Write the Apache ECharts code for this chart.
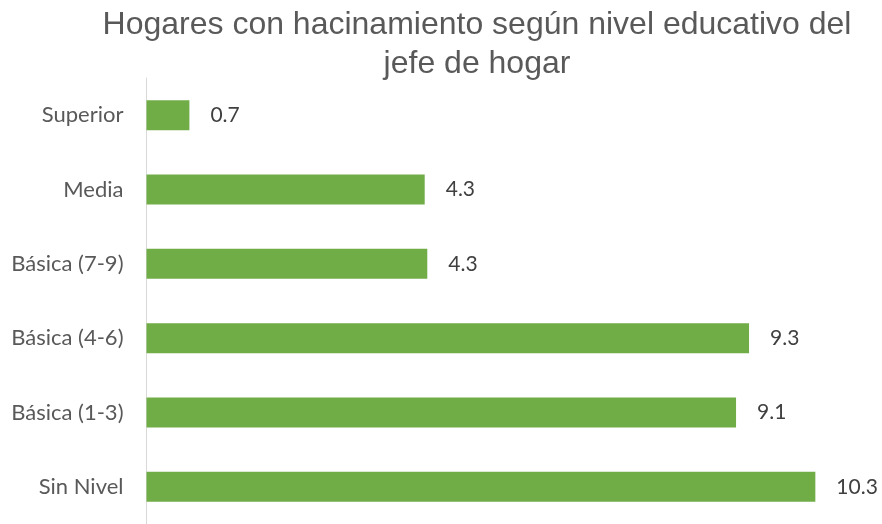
<!DOCTYPE html>
<html><head><meta charset="utf-8">
<script src="https://cdn.jsdelivr.net/npm/echarts@6/dist/echarts.min.js"></script>
<style>html,body{margin:0;padding:0;background:#fff}#c{width:882px;height:524px}</style>
</head><body><div id="c"></div>
<script>
const categories = ['Sin Nivel', 'Básica (1-3)', 'Básica (4-6)', 'Básica (7-9)', 'Media', 'Superior'];
const values = [10.29, 9.07, 9.27, 4.32, 4.28, 0.66];
const titleText = 'Hogares con hacinamiento según nivel educativo del\njefe de hogar';

const chart = echarts.init(document.getElementById('c'), null, {renderer: 'canvas'});
chart.setOption({
  animation: false,
  backgroundColor: '#ffffff',
  title: {
    text: titleText,
    left: 472, top: 1, textAlign: 'center',
    textStyle: {fontFamily: 'Liberation Sans', fontSize: 32, fontWeight: 'normal', color: '#595959', lineHeight: 39}
  },
  grid: {left: 146.5, top: 78, height: 452, right: 20.5, containLabel: false},
  xAxis: {type: 'value', min: 0, max: 11, show: false},
  yAxis: {
    type: 'category', data: categories,
    axisLine: {show: true, lineStyle: {color: '#d9d9d9', width: 1}},
    axisTick: {show: false},
    axisLabel: {fontFamily: 'Lato', fontSize: 22, color: '#595959', margin: 23},
    splitLine: {show: false}
  },
  series: [{
    type: 'bar', data: values, barWidth: 30,
    itemStyle: {color: '#70ad47'},
    label: {show: true, position: 'right', distance: 21, fontFamily: 'Lato', fontSize: 21, color: '#404040',
      formatter: p => p.value.toFixed(1)}
  }]
});
</script></body></html>
